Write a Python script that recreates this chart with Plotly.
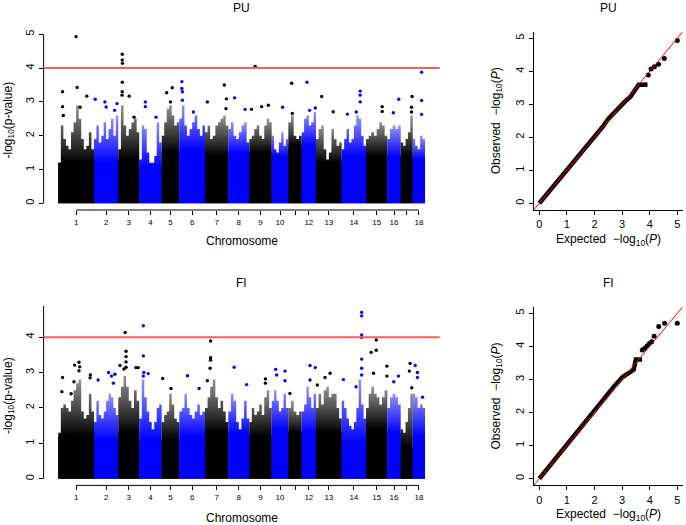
import numpy as np
import plotly.graph_objects as go

W, H = 686, 525

# chromosome sizes (number of markers, read from the block widths)
chromosomes = [str(i) for i in range(1, 19)]
chrom_snps = [3570, 2430, 2100, 2240, 1760, 2570, 2330, 2100, 2240,
              1660, 1340, 1430, 2570, 2430, 2130, 1340, 1200, 1230]
tick_text = ["1", "2", "3", "4", "5", "6", "7", "8", "9", "10", "",
             "12", "13", "14", "15", "16", "", "18"]
threshold = 4

# ---- PU: -log10(p) of the dense block and the top of the point cloud ----
pu_base = [1.2, 1.2, 1.3, 1.1, 1.5, 1.6, 1.4, 1.5, 1.5, 1.4, 1.7, 1.7, 1.2, 1.4, 1.4, 1.4, 1.4, 1.3]
pu_upper = [
    [1.2, 2.3, 1.9, 1.7, 1.6, 2.1, 2.4, 2.9, 2.5, 1.9, 1.6, 1.7, 2.1, 1.6],
    [1.9, 2.3, 1.8, 2.0, 2.4, 1.9, 2.2, 2.5, 2.0, 2.6],
    [1.6, 2.9, 2.3, 2.0, 2.2, 2.4, 2.5, 2.1],
    [1.3, 2.3, 2.2, 1.5, 1.2, 1.2, 1.4, 2.4, 1.8],
    [2.0, 2.4, 2.8, 2.9, 2.6, 2.3, 2.4],
    [2.5, 2.9, 2.3, 2.0, 2.2, 2.4, 2.6, 2.2, 2.0, 2.3],
    [2.1, 2.3, 1.9, 2.0, 2.3, 2.4, 2.5, 2.6, 2.3],
    [2.2, 2.4, 2.0, 1.9, 2.1, 2.3, 2.4, 1.8],
    [1.9, 2.0, 2.2, 2.3, 2.0, 1.9, 2.3, 2.5, 2.4],
    [2.0, 1.6, 1.5, 1.8, 2.1, 1.7, 1.9],
    [2.4, 2.6, 2.0, 1.9, 2.0],
    [2.1, 2.5, 2.6, 2.3, 2.4, 2.7],
    [1.9, 2.2, 2.3, 1.6, 1.3, 1.5, 2.2, 1.9, 1.7, 1.8],
    [1.6, 1.9, 2.2, 1.8, 1.9, 2.3, 2.6, 2.5, 2.0, 1.7],
    [1.9, 2.0, 2.1, 2.0, 2.2, 2.4, 2.3, 2.0],
    [1.9, 2.2, 2.3, 2.2, 2.3],
    [1.8, 1.7, 1.9, 2.1, 2.6],
    [1.9, 1.7, 1.6, 2.0, 1.9],
]
# isolated SNPs: (relative position in chromosome, -log10 p)
pu_peaks = [
    [(0.12, 2.86), (0.12, 3.3), (0.5, 4.93), (0.53, 3.43), (0.8, 3.17), (0.61, 2.84), (0.14, 2.6)],
    [(0.05, 3.08), (0.45, 3.0), (0.5, 2.85), (0.95, 2.95), (0.85, 2.75)],
    [(0.19, 4.41), (0.19, 4.24), (0.2, 4.14), (0.19, 3.58), (0.19, 3.3), (0.18, 3.2), (0.52, 3.17), (0.75, 2.55)],
    [(0.27, 3.0), (0.27, 2.86), (0.75, 2.55)],
    [(0.28, 3.27), (0.6, 3.42), (0.5, 3.0)],
    [(0.1, 3.6), (0.1, 3.4), (0.12, 3.3), (0.12, 3.05), (0.55, 2.7)],
    [(0.1, 3.0), (0.83, 3.5), (0.92, 3.09), (0.9, 2.8)],
    [(0.3, 3.12), (0.8, 2.78)],
    [(0.26, 4.05), (0.55, 2.86), (0.85, 2.9), (0.1, 2.78)],
    [(0.66, 2.84)],
    [(0.25, 3.55), (0.3, 2.66)],
    [(0.37, 3.58), (0.95, 2.82), (0.55, 2.75)],
    [(0.22, 3.16), (0.67, 2.71)],
    [(0.76, 3.32), (0.76, 3.2), (0.76, 3.0), (0.6, 2.7), (0.23, 2.64)],
    [(0.76, 2.86), (0.76, 2.72)],
    [(0.85, 3.08), (0.45, 2.68)],
    [(0.95, 3.16), (0.9, 2.84), (0.9, 2.7)],
    [(0.72, 3.88), (0.72, 3.04), (0.72, 2.63)],
]

# ---- FI ----
fi_base = [1.2, 1.1, 1.3, 1.1, 1.1, 1.2, 1.3, 1.3, 1.2, 1.4, 1.3, 1.3, 1.3, 1.0, 1.4, 1.3, 0.9, 1.2]
fi_upper = [
    [1.3, 2.0, 2.1, 2.0, 1.9, 2.2, 2.5, 2.7, 2.8, 1.9, 1.7, 1.8, 2.4, 1.9],
    [1.6, 2.2, 1.8, 1.7, 1.9, 2.2, 2.4, 2.3, 2.0, 1.8],
    [2.3, 2.6, 2.9, 2.6, 2.2, 2.0, 2.5, 2.2],
    [1.7, 2.8, 2.3, 1.9, 1.6, 1.4, 1.6, 2.0, 2.1],
    [1.6, 1.8, 1.9, 2.4, 2.1, 1.7, 1.6],
    [1.9, 2.0, 2.4, 2.0, 1.8, 1.7, 1.9, 2.1, 1.8, 1.9],
    [2.0, 2.3, 2.6, 2.8, 2.3, 2.0, 2.2, 1.9, 1.6],
    [1.9, 2.4, 2.2, 1.6, 1.4, 1.7, 2.2, 1.7],
    [1.6, 2.0, 1.8, 1.9, 2.1, 1.8, 2.3, 2.5, 2.0],
    [2.2, 2.5, 2.2, 1.9, 2.0, 2.4, 2.0],
    [2.0, 2.2, 1.9, 1.8, 1.9],
    [1.9, 2.1, 2.6, 2.3, 2.0, 2.4],
    [2.0, 2.4, 2.1, 2.5, 2.6, 2.3, 2.4, 2.4, 2.0, 1.7],
    [2.2, 2.0, 1.7, 1.5, 1.4, 1.6, 2.0, 2.8, 2.1, 1.7],
    [2.0, 2.4, 2.6, 2.4, 2.3, 2.1, 2.3, 2.5],
    [2.0, 2.3, 2.4, 2.3, 2.1],
    [1.4, 1.3, 1.6, 2.0, 2.4],
    [2.4, 2.3, 2.0, 2.1, 2.0],
]
fi_peaks = [
    [(0.12, 2.86), (0.1, 2.46), (0.46, 3.21), (0.58, 3.29), (0.6, 3.16), (0.58, 3.05), (0.44, 2.74), (0.9, 2.93), (0.89, 2.85), (0.36, 2.4)],
    [(0.17, 2.79), (0.6, 3.0), (0.72, 2.9), (0.8, 2.7), (0.86, 2.95)],
    [(0.33, 4.13), (0.37, 3.6), (0.37, 3.45), (0.37, 3.3), (0.37, 3.15), (0.08, 3.2), (0.27, 3.1), (0.84, 3.14), (0.95, 3.14)],
    [(0.18, 4.32), (0.18, 3.47), (0.2, 3.0), (0.4, 2.97), (0.18, 2.9)],
    [(0.06, 2.83), (0.53, 2.55)],
    [(0.32, 2.91), (0.77, 2.55)],
    [(0.24, 3.89), (0.24, 3.42), (0.24, 3.35), (0.22, 3.12), (0.1, 2.77)],
    [(0.28, 3.15), (0.87, 2.66)],
    [(0.72, 2.82), (0.72, 2.7)],
    [(0.24, 3.09), (0.3, 2.93), (0.8, 3.04), (0.8, 2.77)],
    [(0.12, 2.41)],
    [(0.58, 3.2), (0.95, 3.14), (0.58, 2.79)],
    [(0.55, 2.98), (0.35, 2.86), (0.05, 2.65)],
    [(0.82, 4.7), (0.82, 4.6), (0.82, 4.06), (0.82, 3.99), (0.82, 3.38), (0.82, 3.12), (0.82, 2.93), (0.07, 2.8), (0.59, 2.6)],
    [(0.24, 3.57), (0.48, 3.92), (0.48, 3.63), (0.35, 2.98), (0.98, 3.18), (0.98, 2.9)],
    [(0.83, 2.9), (0.48, 2.74)],
    [(0.78, 3.26), (0.72, 3.04), (0.92, 2.57)],
    [(0.2, 3.2), (0.38, 3.0), (0.38, 2.86), (0.8, 2.3)],
]

# ---- QQ plots: expected vs observed -log10(P) ----
pu_qq_expected = [0, 0.5, 1.0, 1.5, 2.0, 2.3, 2.5, 2.7, 2.9, 3.1, 3.3, 3.45, 3.55, 3.6, 3.75, 3.92]
pu_qq_observed = [0, 0.5, 1.0, 1.5, 2.0, 2.32, 2.56, 2.75, 2.9, 3.08, 3.23, 3.4, 3.55, 3.59, 3.59, 3.6]
pu_tail_expected = [3.95, 4.05, 4.17, 4.32, 4.53, 5.0]
pu_tail_observed = [3.89, 4.07, 4.14, 4.21, 4.39, 4.93]

fi_qq_expected = [0, 0.5, 1.0, 1.5, 2.0, 2.5, 2.7, 3.0, 3.2, 3.3, 3.42, 3.46, 3.5, 3.72]
fi_qq_observed = [0, 0.52, 1.03, 1.53, 2.03, 2.55, 2.78, 3.06, 3.18, 3.22, 3.3, 3.45, 3.6, 3.6]
fi_tail_expected = [3.73, 3.82, 3.91, 3.99, 4.07, 4.16, 4.33, 4.54, 5.0]
fi_tail_observed = [3.89, 3.94, 4.02, 4.09, 4.14, 4.31, 4.6, 4.7, 4.7]

colors = ["#000000", "#0000FF"]
rgb = [(0, 0, 0), (0, 0, 255)]

ends = np.cumsum(chrom_snps)
starts = ends - np.array(chrom_snps)
mids = (starts + ends) / 2
total = ends[-1]

fig = go.Figure()


def add_manhattan(base, upper, peaks, xa, ya):
    for i in range(len(chromosomes)):
        col = colors[i % 2]
        r, g, b = rgb[i % 2]
        x0, x1 = starts[i], ends[i]
        n = len(upper[i])
        # thinning cloud above the dense block, one column per reading
        xs = x0 + (x1 - x0) * np.arange(n) / n
        fig.add_trace(go.Scatter(x=np.concatenate([[x0], xs, [x1, x1]]),
                                 y=np.concatenate([[0], upper[i], [upper[i][-1], 0]]),
                                 fill="toself", mode="lines", line=dict(width=0, shape="hv"),
                                 fillgradient=dict(type="vertical", start=base[i], stop=max(upper[i]),
                                                   colorscale=[[0, f"rgba({r},{g},{b},1)"],
                                                               [1, f"rgba({r},{g},{b},0.42)"]]),
                                 xaxis=xa, yaxis=ya, hoverinfo="skip"))
        # dense block of non-significant SNPs
        fig.add_trace(go.Scatter(x=[x0, x0, x1, x1], y=[0, base[i], base[i], 0],
                                 fill="toself", fillcolor=col, mode="lines", line=dict(width=0),
                                 xaxis=xa, yaxis=ya, hoverinfo="skip"))
        # isolated SNPs above the cloud
        fig.add_trace(go.Scatter(x=[x0 + f * (x1 - x0) for f, v in peaks[i]],
                                 y=[v for f, v in peaks[i]], mode="markers",
                                 marker=dict(color=col, size=3.4, line=dict(width=0)),
                                 xaxis=xa, yaxis=ya, hoverinfo="skip"))


def add_qq(exp, obs, t_exp, t_obs, xa, ya):
    fig.add_trace(go.Scatter(x=exp, y=obs, mode="lines", line=dict(color="black", width=4.5),
                             xaxis=xa, yaxis=ya, hoverinfo="skip"))
    fig.add_trace(go.Scatter(x=t_exp, y=t_obs, mode="markers",
                             marker=dict(color="black", size=5, line=dict(width=0)),
                             xaxis=xa, yaxis=ya, hoverinfo="skip"))


add_manhattan(pu_base, pu_upper, pu_peaks, "x", "y")
add_qq(pu_qq_expected, pu_qq_observed, pu_tail_expected, pu_tail_observed, "x2", "y2")
add_manhattan(fi_base, fi_upper, fi_peaks, "x3", "y3")
add_qq(fi_qq_expected, fi_qq_observed, fi_tail_expected, fi_tail_observed, "x4", "y4")

pu_max = max(v for p in pu_peaks for f, v in p)
fi_max = max(v for p in fi_peaks for f, v in p)

man_dom = [43.6 / W, 439.7 / W]
qq_dom = [533.8 / W, 682.8 / W]
top_dom = [1 - 210.0 / H, 1 - 30.0 / H]
bot_dom = [1 - 485.4 / H, 1 - 305.7 / H]
qq_top_dom = [1 - 209.9 / H, 1 - 31.7 / H]
qq_bot_dom = [1 - 485.3 / H, 1 - 306.7 / H]

tick_common = dict(ticks="outside", ticklen=4, tickcolor="black", tickwidth=1,
                   showgrid=False, zeroline=False)
man_x = dict(range=[-0.04 * total, 1.04 * total], domain=man_dom, tickmode="array",
             tickvals=mids, ticktext=tick_text, tickfont=dict(size=8), showline=False, **tick_common)
qq_axis = dict(range=[-0.2, 5.2], dtick=1, tick0=0, showline=True, linecolor="black",
               linewidth=1, tickfont=dict(size=11), **tick_common)

fig.update_layout(
    width=W, height=H, margin=dict(l=0, r=0, t=0, b=0),
    plot_bgcolor="white", paper_bgcolor="white", showlegend=False,
    font=dict(family="Liberation Sans, Arial, sans-serif", color="black", size=12),
    xaxis=dict(anchor="y", **man_x),
    yaxis=dict(anchor="x", domain=top_dom, range=[-0.04 * pu_max, 1.04 * pu_max], dtick=1, tick0=0,
               tickangle=-90, tickfont=dict(size=11), showline=False, **tick_common),
    xaxis2=dict(anchor="y2", domain=qq_dom, **qq_axis),
    yaxis2=dict(anchor="x2", domain=qq_top_dom, tickangle=-90, **qq_axis),
    xaxis3=dict(anchor="y3", **man_x),
    yaxis3=dict(anchor="x3", domain=bot_dom, range=[-0.04 * fi_max, 1.04 * fi_max], dtick=1, tick0=0,
                tickangle=-90, tickfont=dict(size=11), showline=False, **tick_common),
    xaxis4=dict(anchor="y4", domain=qq_dom, **qq_axis),
    yaxis4=dict(anchor="x4", domain=qq_bot_dom, tickangle=-90, **qq_axis),
)

# R-style axis lines, threshold and diagonal
for xa, ya, ymax in [("x", "y", pu_max), ("x3", "y3", fi_max)]:
    fig.add_shape(type="line", xref=xa, yref=ya + " domain", x0=mids[0], x1=mids[-1], y0=0, y1=0,
                  line=dict(color="black", width=1))
    fig.add_shape(type="line", xref=xa + " domain", yref=ya, x0=0, x1=0, y0=0,
                  y1=min(5, 1.04 * ymax), line=dict(color="black", width=1))
    fig.add_shape(type="line", xref=xa + " domain", yref=ya, x0=0, x1=1, y0=threshold, y1=threshold,
                  line=dict(color="#F06060", width=2))
for xa, ya in [("x2", "y2"), ("x4", "y4")]:
    fig.add_shape(type="line", xref=xa, yref=ya, x0=-0.2, y0=-0.2, x1=5.2, y1=5.2,
                  line=dict(color="red", width=1))

man_cx = (man_dom[0] + man_dom[1]) / 2
qq_cx = (qq_dom[0] + qq_dom[1]) / 2
ann = [
    ("PU", man_cx, 1 - 8 / H, 0),
    ("PU", qq_cx, 1 - 8 / H, 0),
    ("FI", man_cx, 1 - 283 / H, 0),
    ("FI", qq_cx, 1 - 283 / H, 0),
    ("Chromosome", man_cx, 1 - 241.5 / H, 0),
    ("Chromosome", man_cx, 1 - 518 / H, 0),
    ("-log<sub>10</sub>(p-value)", 8.5 / W, sum(top_dom) / 2, -90),
    ("-log<sub>10</sub>(p-value)", 8.5 / W, sum(bot_dom) / 2, -90),
    ("Expected  \u2212log<sub>10</sub>(<i>P</i>)", qq_cx, 1 - 239.5 / H, 0),
    ("Expected  \u2212log<sub>10</sub>(<i>P</i>)", qq_cx, 1 - 515 / H, 0),
    ("Observed  \u2212log<sub>10</sub>(<i>P</i>)", 496.5 / W, sum(qq_top_dom) / 2, -90),
    ("Observed  \u2212log<sub>10</sub>(<i>P</i>)", 496.5 / W, sum(qq_bot_dom) / 2, -90),
]
for text, x, y, ang in ann:
    fig.add_annotation(text=text, x=x, y=y, xref="paper", yref="paper", showarrow=False,
                       xanchor="center", yanchor="middle", textangle=ang,
                       font=dict(size=12, color="black"))

fig.write_html("out.html", config={"displayModeBar": False},
               post_script="document.body.style.margin='0';")
